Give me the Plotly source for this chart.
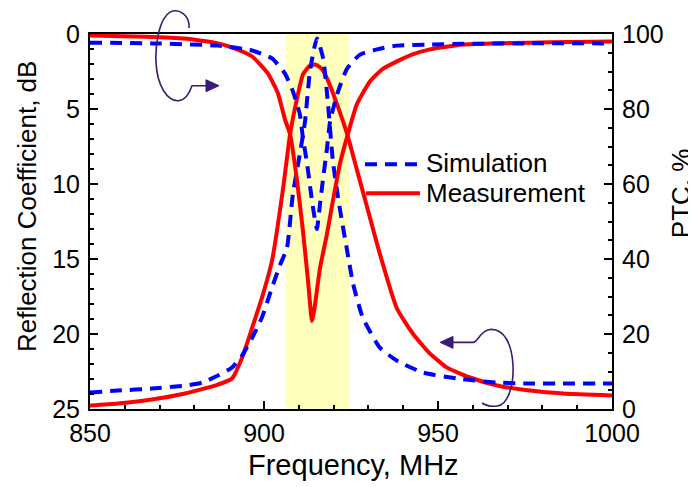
import plotly.graph_objects as go

# ---------------- data ----------------
# Measured PTC (right axis, %)
meas_ptc_f = [850, 866, 877.3, 886.8, 891.7, 896.6, 901.1, 904.0, 906.0, 907.5, 909.5, 911.2, 912.6,
              913.8, 914.6, 916.1, 918.1, 919.8, 921.8, 924.1, 926.7, 930.5, 934, 938.2, 942.5,
              947.7, 957.2, 966, 976.4, 988, 1000]
meas_ptc_v = [99.6, 99.3, 98.8, 97.5, 96.1, 94.0, 89.5, 84.2, 77.3, 73.3, 60.8, 47.4, 34.7,
              23.5, 27.5, 37.6, 46.7, 55.5, 65.3, 73.3, 81.3, 87.4, 90.6, 92.7, 94.5,
              95.9, 97.2, 97.5, 97.7, 97.9, 98.0]

# Measured reflection coefficient (left axis, dB)
meas_rc_f = [850, 858.0, 867.8, 877.3, 886.8, 890.8, 893.7, 896.6, 899.4, 902.3, 905.5, 907.5,
             909.5, 911.2, 913, 914.7, 916.5, 918.1, 921.0, 923.9, 926.8, 929.7, 933.3, 938.2,
             942.8, 947.7, 952.6, 959.2, 967.0, 976.4, 985.9, 1000]
meas_rc_v = [24.77, 24.63, 24.37, 23.97, 23.37, 22.97, 21.58, 19.58, 17.59, 15.13, 10.27, 6.68,
             4.29, 2.69, 2.15, 2.03, 2.3, 2.96, 4.69, 6.68, 9.14, 11.6, 14.66, 18.3,
             19.98, 21.31, 22.24, 22.9, 23.43, 23.77, 23.97, 24.1]

# Simulated PTC (right axis, %)
sim_ptc_f = [850, 867.8, 886.8, 896.6, 902.3, 906.0, 908.3, 910.3, 911.2, 912.4, 913.3, 914.2,
             915.2, 916.1, 917.0, 918.1, 919.0, 921.0, 923.9, 927.6, 932.5, 938.2, 947.7, 960,
             976.4, 1000]
sim_ptc_v = [97.7, 97.5, 96.9, 95.6, 93.5, 89.5, 84.7, 78.6, 72.2, 65.3, 58.9, 53.0,
             48.0, 54.7, 61.6, 69.5, 76.7, 83.9, 90.8, 94.5, 95.9, 96.9, 97.2, 97.4,
             97.5, 97.5]

# Simulated reflection coefficient (left axis, dB)
sim_rc_f = [850, 858.0, 867.8, 877.3, 882.2, 886.8, 890.8, 893.7, 896.6, 899.4, 902.3, 904.6,
            906.6, 908.3, 910.3, 911.8, 913.2, 915.2, 917.0, 918.4, 919.8, 921.3, 922.4, 923.9,
            925.6, 928.4, 933.3, 938.2, 945.7, 955.5, 967.0, 976.4, 1000]
sim_rc_v = [23.9, 23.77, 23.64, 23.44, 23.24, 22.77, 22.24, 21.44, 20.25, 18.9, 16.9, 15.4,
            14.26, 10.67, 8.01, 5.82, 2.49, 0.3, 1.63, 4.69, 8.48, 10.94, 12.47, 14.46,
            16.66, 18.92, 20.91, 21.78, 22.57, 22.97, 23.24, 23.3, 23.3]

band = [906.3, 924.4]          # shaded band, MHz
x_ticks = [850, 900, 950, 1000]
y_left_ticks = [0, 5, 10, 15, 20, 25]
y_right_ticks = [0, 20, 40, 60, 80, 100]
legend_names = ["Simulation", "Measurement"]

# ---------------- layout geometry ----------------
# the page body has an 8px default margin, so the figure is drawn 8px in
OFF = 8
W, H = 696 - OFF, 487 - OFF
L, R, T, B = 90 - OFF, 84, 32 - OFF, 78
PW, PH = W - L - R, H - T - B


def P(px, py):
    """window pixel -> paper coordinates (for decorations only)"""
    return (px - OFF - L) / PW, (H - B - (py - OFF)) / PH


def path(cmds):
    out = []
    for c in cmds:
        if isinstance(c, str):
            out.append(c)
        else:
            x, y = P(*c)
            out.append(f"{x:.4f},{y:.4f}")
    return " ".join(out)


RED = "#FF0000"
BLUE = "#0000FF"
PURPLE = "#3A1A78"
FONT = "Liberation Sans, Arial, sans-serif"

fig = go.Figure()
fig.add_trace(go.Scatter(x=meas_ptc_f, y=meas_ptc_v, yaxis="y2", mode="lines",
                         line=dict(color=RED, width=4, shape="spline", smoothing=0.5),
                         showlegend=False))
fig.add_trace(go.Scatter(x=meas_rc_f, y=meas_rc_v, mode="lines",
                         line=dict(color=RED, width=4, shape="spline", smoothing=0.5),
                         showlegend=False))
fig.add_trace(go.Scatter(x=sim_ptc_f, y=sim_ptc_v, yaxis="y2", mode="lines",
                         line=dict(color=BLUE, width=4, dash="12px,8px", shape="spline", smoothing=0.5),
                         showlegend=False))
fig.add_trace(go.Scatter(x=sim_rc_f, y=sim_rc_v, mode="lines",
                         line=dict(color=BLUE, width=4, dash="12px,8px", shape="spline", smoothing=0.5),
                         showlegend=False))

shapes = [
    dict(type="rect", xref="x", yref="paper", x0=band[0], x1=band[1], y0=0, y1=1,
         fillcolor="rgb(255,255,190)", line=dict(width=0), layer="below"),
]

# arrow 1 (top-left, pointing right)
loop1 = path(["M", (189, 26), "C", (190, 12), (178, 6), (170, 10), "C", (160, 16), (155, 40), (156, 60),
              "C", (157, 85), (168, 100), (179, 99), "C", (187, 98), (190, 90), (192, 84), "L", (208, 84)])
head1 = path(["M", (219, 84), "L", (206, 78), "L", (206, 90), "Z"])
# arrow 2 (bottom-right, pointing left)
loop2 = path(["M", (452, 342), "L", (473, 342), "C", (478, 342), (480, 330), (490, 329),
              "C", (505, 328), (512, 345), (513, 365), "C", (514, 385), (508, 405), (497, 406),
              "C", (490, 407), (485, 405), (482, 403)])
head2 = path(["M", (440, 342), "L", (453, 336), "L", (453, 348), "Z"])
for pth in (loop1, loop2):
    shapes.append(dict(type="path", xref="paper", yref="paper", path=pth,
                       line=dict(color=PURPLE, width=1.6)))
for pth in (head1, head2):
    shapes.append(dict(type="path", xref="paper", yref="paper", path=pth,
                       fillcolor=PURPLE, line=dict(color=PURPLE, width=1)))

# manual legend samples
sx0, sy0 = P(365, 163)
sx1, _ = P(418, 163)
shapes.append(dict(type="line", xref="paper", yref="paper", x0=sx0, x1=sx1, y0=sy0, y1=sy0,
                   line=dict(color=BLUE, width=4, dash="12px,8px")))
mx0, my0 = P(366, 192)
mx1, _ = P(420, 192)
shapes.append(dict(type="line", xref="paper", yref="paper", x0=mx0, x1=mx1, y0=my0, y1=my0,
                   line=dict(color=RED, width=4)))

annotations = []
tx, ty = P(424, 162)
annotations.append(dict(xref="paper", yref="paper", x=tx, y=ty, text=legend_names[0], showarrow=False,
                        xanchor="left", yanchor="middle", font=dict(family=FONT, size=26, color="black")))
tx, ty = P(424, 192)
annotations.append(dict(xref="paper", yref="paper", x=tx, y=ty, text=legend_names[1], showarrow=False,
                        xanchor="left", yanchor="middle", font=dict(family=FONT, size=26, color="black")))
# axis titles
ax, ay = P(27, 206)
annotations.append(dict(xref="paper", yref="paper", x=ax, y=ay, text="Reflection Coefficient, dB",
                        textangle=-90, showarrow=False, xanchor="center", yanchor="middle",
                        font=dict(family=FONT, size=26, color="black")))
ax, ay = P(681, 192)
annotations.append(dict(xref="paper", yref="paper", x=ax, y=ay, text="PTC, %",
                        textangle=-90, showarrow=False, xanchor="center", yanchor="middle",
                        font=dict(family=FONT, size=26, color="black")))
ax, ay = P(353, 465)
annotations.append(dict(xref="paper", yref="paper", x=ax, y=ay, text="Frequency, MHz",
                        showarrow=False, xanchor="center", yanchor="middle",
                        font=dict(family=FONT, size=29, color="black")))

tickfont = dict(family=FONT, size=25, color="black")
fig.update_layout(
    width=W, height=H,
    margin=dict(l=L, r=R, t=T, b=B),
    paper_bgcolor="white", plot_bgcolor="white",
    showlegend=False,
    xaxis=dict(range=[850, 1000], tickvals=x_ticks, ticks="inside", ticklen=8, tickwidth=2,
               tickcolor="black", showline=True, linecolor="black", linewidth=2, mirror=True,
               showgrid=False, zeroline=False, tickfont=tickfont, ticklabelstandoff=1,
               minor=dict(dtick=10, ticks="inside", ticklen=4, tickwidth=2, tickcolor="black", showgrid=False)),
    yaxis=dict(range=[25, 0], tickvals=y_left_ticks, ticks="inside", ticklen=8, tickwidth=2,
               tickcolor="black", showline=True, linecolor="black", linewidth=2,
               showgrid=False, zeroline=False, tickfont=tickfont, ticklabelstandoff=3,
               minor=dict(dtick=1, ticks="inside", ticklen=4, tickwidth=2, tickcolor="black", showgrid=False)),
    yaxis2=dict(range=[0, 100], tickvals=y_right_ticks, overlaying="y", side="right", ticks="inside",
                ticklen=8, tickwidth=2, tickcolor="black", showline=True, linecolor="black", linewidth=2,
                showgrid=False, zeroline=False, tickfont=tickfont, ticklabelstandoff=3,
                minor=dict(dtick=5, ticks="inside", ticklen=4, tickwidth=2, tickcolor="black", showgrid=False)),
    shapes=shapes,
    annotations=annotations,
)

fig.write_html("out.html")
